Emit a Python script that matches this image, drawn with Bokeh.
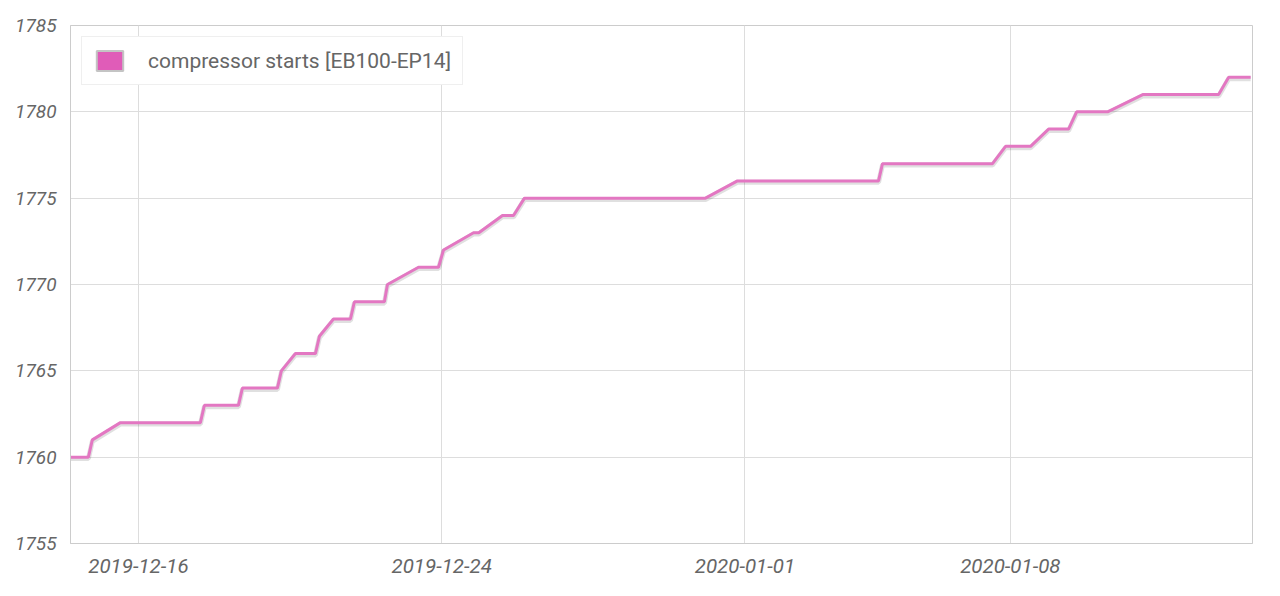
import pandas as pd
from bokeh.plotting import figure
from bokeh.models import FixedTicker, DatetimeTickFormatter, Legend, LegendItem, Range1d
from bokeh.embed import file_html
from bokeh.resources import INLINE

# --- data ---
times = [
    "2019-12-14 05:00", "2019-12-14 16:20", "2019-12-14 18:50", "2019-12-15 12:35",
    "2019-12-17 15:15", "2019-12-17 17:45", "2019-12-18 15:20", "2019-12-18 17:50",
    "2019-12-19 16:00", "2019-12-19 18:30", "2019-12-20 03:25", "2019-12-20 16:05",
    "2019-12-20 18:35", "2019-12-21 03:30", "2019-12-21 14:15", "2019-12-21 16:45",
    "2019-12-22 11:45", "2019-12-22 13:40", "2019-12-23 09:20", "2019-12-23 22:00",
    "2019-12-24 01:10", "2019-12-24 20:10", "2019-12-24 23:30", "2019-12-25 14:30",
    "2019-12-25 21:30",
    "2019-12-26 04:25", "2019-12-30 23:00", "2019-12-31 19:15", "2020-01-04 12:35",
    "2020-01-04 15:05", "2020-01-07 12:45", "2020-01-07 21:00", "2020-01-08 12:50",
    "2020-01-09 00:15", "2020-01-09 12:55", "2020-01-09 18:00", "2020-01-10 13:35",
    "2020-01-11 11:50", "2020-01-13 11:55", "2020-01-13 18:15", "2020-01-14 08:10",
]
starts = [
    1760, 1760, 1761, 1762,
    1762, 1763, 1763, 1764,
    1764, 1765, 1766, 1766,
    1767, 1768, 1768, 1769,
    1769, 1770, 1771, 1771,
    1772, 1773, 1773, 1774,
    1774,
    1775, 1775, 1776, 1776,
    1777, 1777, 1778, 1778,
    1779, 1779, 1780, 1780,
    1781, 1781, 1782, 1782,
]
series_name = "compressor starts [EB100-EP14]"
tick_dates = ["2019-12-16", "2019-12-24", "2020-01-01", "2020-01-08"]
y_ticks = [1755, 1760, 1765, 1770, 1775, 1780, 1785]
x_start, x_end = "2019-12-14 05:00", "2020-01-14 09:20"

t = pd.to_datetime(times)
tick_ms = [pd.Timestamp(d).value // 10**6 for d in tick_dates]

p = figure(width=1272, height=588, x_axis_type="datetime",
           output_backend="svg", toolbar_location=None,
           x_range=Range1d(pd.Timestamp(x_start), pd.Timestamp(x_end)),
           y_range=Range1d(y_ticks[0], y_ticks[-1]),
           min_border_left=70, min_border_right=20,
           min_border_top=25, min_border_bottom=45)
p.background_fill_color = "white"
p.border_fill_color = "white"
p.outline_line_color = "#cccccc"
p.outline_line_width = 1

# shadow + line
p.line(t, [v - 0.08 for v in starts], line_color="#000000", line_alpha=0.12, line_width=5)
p.line(t, starts, line_color="#e377c2", line_width=3)

# legend swatch (filled square); NaN geometry so nothing is drawn in the plot
nan = float("nan")
sw = p.quad(left=[nan], right=[nan], top=[nan], bottom=[nan], fill_color="#e05cb8",
            line_color="#c4c4c4", line_width=2)
legend = Legend(items=[LegendItem(label=series_name, renderers=[sw], index=0)],
                location="top_left", margin=11, padding=11, spacing=0,
                glyph_width=33, glyph_height=25, label_standoff=22,
                label_text_font="Roboto", label_text_font_size="21px",
                label_text_color="#666666",
                border_line_color="#e0e0e0", border_line_width=1,
                background_fill_color="white", background_fill_alpha=1.0)
p.add_layout(legend)

# axes
p.xaxis.ticker = FixedTicker(ticks=tick_ms)
p.xaxis.formatter = DatetimeTickFormatter(days="%Y-%m-%d", months="%Y-%m-%d",
                                          hours="%Y-%m-%d", years="%Y-%m-%d")
p.yaxis.ticker = FixedTicker(ticks=y_ticks)
for ax in (p.xaxis, p.yaxis):
    ax.major_tick_line_color = None
    ax.minor_tick_line_color = None
    ax.axis_line_color = "#cccccc"
    ax.major_label_text_font = "Roboto"
    ax.major_label_text_font_style = "italic"
    ax.major_label_text_color = "#666666"
p.xaxis.major_label_text_font_size = "20.5px"
p.yaxis.major_label_text_font_size = "19px"
p.xaxis.major_label_standoff = 9
p.yaxis.major_label_standoff = 8

p.xgrid.ticker = FixedTicker(ticks=tick_ms)
p.ygrid.ticker = FixedTicker(ticks=y_ticks)
p.grid.grid_line_color = "#dddddd"
p.grid.grid_line_width = 1

open("out.html", "w").write(file_html(p, INLINE))
